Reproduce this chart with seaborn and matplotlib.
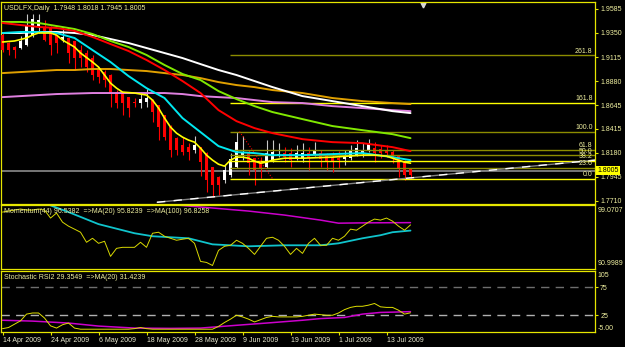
import numpy as np
import pandas as pd
import matplotlib
matplotlib.use("Agg")
import matplotlib.pyplot as plt
import matplotlib.transforms as mtrans
import seaborn as sns

# ---------------- data ----------------
tick_labels = ["14 Apr 2009", "24 Apr 2009", "6 May 2009", "18 May 2009", "28 May 2009",
               "9 Jun 2009", "19 Jun 2009", "1 Jul 2009", "13 Jul 2009"]
tick_bars = [0, 8, 16, 24, 32, 40, 48, 56, 64]

opens = [1.9330, 1.9252, 1.9213, 1.9203, 1.9232, 1.9330, 1.9409, 1.9409, 1.9409, 1.9330,
         1.9281, 1.9301, 1.9272, 1.9183, 1.9154, 1.9105, 1.9007, 1.8968, 1.8939, 1.8772,
         1.8763, 1.8723, 1.8679, 1.8665, 1.8674, 1.8694, 1.8645, 1.8547, 1.8430, 1.8322,
         1.8253, 1.8234, 1.8205, 1.8234, 1.8176, 1.8038, 1.7940, 1.7911, 1.7960, 1.8038,
         1.8156, 1.8176, 1.8126, 1.8087, 1.8038, 1.8107, 1.8146, 1.8176, 1.8176, 1.8126,
         1.8126, 1.8176, 1.8156, 1.8176, 1.8146, 1.8126, 1.8126, 1.8117, 1.8126, 1.8156,
         1.8176, 1.8195, 1.8224, 1.8214, 1.8195, 1.8185, 1.8146, 1.8087, 1.8018]
highs = [1.9350, 1.9262, 1.9220, 1.9321, 1.9536, 1.9536, 1.9536, 1.9477, 1.9415, 1.9335,
         1.9399, 1.9305, 1.9275, 1.9232, 1.9183, 1.9135, 1.9017, 1.8988, 1.8949, 1.8792,
         1.8772, 1.8728, 1.8714, 1.8772, 1.8802, 1.8704, 1.8650, 1.8552, 1.8449, 1.8332,
         1.8332, 1.8273, 1.8342, 1.8240, 1.8185, 1.8040, 1.7950, 1.8058, 1.8176, 1.8381,
         1.8340, 1.8205, 1.8130, 1.8136, 1.8303, 1.8303, 1.8273, 1.8234, 1.8224, 1.8253,
         1.8273, 1.8234, 1.8283, 1.8205, 1.8176, 1.8185, 1.8195, 1.8205, 1.8253, 1.8303,
         1.8273, 1.8312, 1.8283, 1.8253, 1.8253, 1.8205, 1.8156, 1.8107, 1.8028]
lows = [1.9164, 1.9135, 1.9105, 1.9195, 1.9225, 1.9311, 1.9350, 1.9272, 1.9135, 1.9154,
        1.9262, 1.9056, 1.8988, 1.9017, 1.8968, 1.8890, 1.8860, 1.8821, 1.8625, 1.8616,
        1.8547, 1.8528, 1.8625, 1.8616, 1.8625, 1.8479, 1.8303, 1.8303, 1.8136, 1.8156,
        1.8156, 1.8107, 1.8176, 1.7950, 1.7793, 1.7744, 1.7764, 1.7881, 1.7940, 1.8028,
        1.8107, 1.7960, 1.7862, 1.7930, 1.8028, 1.8087, 1.8136, 1.8087, 1.8038, 1.8107,
        1.8087, 1.8009, 1.8146, 1.8038, 1.8009, 1.7989, 1.8028, 1.8058, 1.8107, 1.8146,
        1.8136, 1.8185, 1.8087, 1.8126, 1.8136, 1.8077, 1.7940, 1.7911, 1.7921]
closes = [1.9183, 1.9183, 1.9183, 1.9272, 1.9428, 1.9487, 1.9477, 1.9281, 1.9232, 1.9252,
          1.9311, 1.9154, 1.9105, 1.9105, 1.9017, 1.8939, 1.8919, 1.8890, 1.8763, 1.8665,
          1.8665, 1.8616, 1.8669, 1.8704, 1.8714, 1.8577, 1.8430, 1.8332, 1.8205, 1.8205,
          1.8185, 1.8185, 1.8253, 1.8087, 1.7911, 1.7862, 1.7862, 1.8009, 1.8117, 1.8283,
          1.8176, 1.8077, 1.8009, 1.8028, 1.8176, 1.8185, 1.8166, 1.8136, 1.8107, 1.8176,
          1.8176, 1.8126, 1.8205, 1.8117, 1.8097, 1.8097, 1.8107, 1.8156, 1.8195, 1.8224,
          1.8195, 1.8263, 1.8176, 1.8176, 1.8176, 1.8126, 1.8028, 1.7960, 1.7960]

yellow_idx = [0, 2, 4, 5, 6, 8, 9, 10, 12, 13, 15, 16, 17, 18, 19, 20, 22, 24, 25, 26,
              27, 28, 29, 30, 31, 32, 33, 34, 35, 36, 37, 38, 39, 40, 41, 42, 43, 44, 45, 47,
              50, 55, 60, 62, 64, 65, 66, 67, 68]
ma_yellow = [1.9262, 1.9272, 1.9301, 1.9330, 1.9350, 1.9350, 1.9330, 1.9281, 1.9213, 1.9154,
             1.9066, 1.9017, 1.8939, 1.8860, 1.8811, 1.8772, 1.8763, 1.8743, 1.8694, 1.8616,
             1.8518, 1.8430, 1.8371, 1.8332, 1.8303, 1.8283, 1.8224, 1.8156, 1.8107, 1.8067,
             1.8048, 1.8107, 1.8136, 1.8136, 1.8126, 1.8097, 1.8077, 1.8087, 1.8107, 1.8126,
             1.8126, 1.8136, 1.8156, 1.8156, 1.8146, 1.8126, 1.8107, 1.8087, 1.8077]

ma_idx = [0, 3, 6, 9, 12, 15, 18, 21, 24, 27, 30, 33, 36, 39, 42, 45, 50, 55, 60, 65, 68]
ma_cyan = [1.9350, 1.9360, 1.9360, 1.9350, 1.9301, 1.9183, 1.9066, 1.8929, 1.8811, 1.8714,
           1.8518, 1.8381, 1.8244, 1.8185, 1.8176, 1.8156, 1.8156, 1.8166, 1.8176, 1.8136, 1.8107]
ma_red = [1.9448, 1.9428, 1.9409, 1.9399, 1.9370, 1.9311, 1.9242, 1.9174, 1.9086, 1.8988,
          1.8880, 1.8763, 1.8596, 1.8488, 1.8420, 1.8371, 1.8312, 1.8283, 1.8273, 1.8234, 1.8195]
ma_green = [1.9458, 1.9458, 1.9448, 1.9418, 1.9389, 1.9340, 1.9272, 1.9213, 1.9135, 1.9037,
            1.8949, 1.8890, 1.8782, 1.8704, 1.8635, 1.8577, 1.8508, 1.8440, 1.8400, 1.8361, 1.8322]
ma_white = [1.9350, 1.9350, 1.9360, 1.9360, 1.9350, 1.9330, 1.9291, 1.9252, 1.9203, 1.9154,
            1.9105, 1.9046, 1.8988, 1.8939, 1.8880, 1.8821, 1.8733, 1.8684, 1.8635, 1.8586, 1.8567]
ma_orange = [1.8958, 1.8968, 1.8978, 1.8988, 1.8988, 1.8998, 1.8998, 1.8988, 1.8978, 1.8958,
             1.8939, 1.8909, 1.8870, 1.8841, 1.8821, 1.8792, 1.8763, 1.8714, 1.8684, 1.8665, 1.8655]
ma_violet = [1.8723, 1.8733, 1.8743, 1.8753, 1.8758, 1.8763, 1.8763, 1.8763, 1.8763, 1.8763,
             1.8753, 1.8733, 1.8723, 1.8714, 1.8694, 1.8674, 1.8665, 1.8635, 1.8616, 1.8596, 1.8586]

price_ticks = [1.9585, 1.9350, 1.9115, 1.8880, 1.8645, 1.8415, 1.8180, 1.7945, 1.7710]
bid_price = 1.8005

fib_ratios = [0.0, 23.6, 38.2, 50.0, 61.8, 100.0, 161.8, 261.8]
fib_low, fib_high = 1.7926, 1.8386
fib_start_bar = 37.9
fib_anchor_bars = [39.5, 45.0]
trend_bars = [25.75, 98.75]
trend_prices = [1.7695, 1.8107]

momentum = [98.17, 98.30, 98.43, 98.56, 98.43, 98.43, 98.56, 98.43, 97.41, 98.05,
            96.89, 96.38, 96.00, 95.61, 94.33, 94.84, 94.20, 94.46, 92.54, 93.56,
            93.69, 93.69, 93.69, 94.33, 93.69, 95.48, 95.61, 95.10, 94.84, 94.59,
            94.72, 94.84, 94.20, 91.90, 91.77, 91.38, 93.30, 93.82, 93.95, 94.59,
            94.20, 93.56, 92.79, 93.82, 94.84, 94.97, 94.59, 93.82, 92.79, 93.56,
            92.92, 94.20, 94.84, 93.95, 93.95, 94.84, 94.59, 95.10, 96.00, 95.87,
            96.38, 96.89, 97.28, 97.15, 97.41, 97.02, 96.38, 95.87, 96.54]
mom_ma20_idx = [7, 11, 16, 22, 25, 28, 31, 35, 41, 47, 53, 56, 60, 63, 65, 68]
mom_ma20 = [99.30, 98.17, 96.64, 95.48, 95.10, 94.97, 94.84, 94.07, 93.82, 93.95,
            93.95, 94.20, 94.84, 95.23, 95.61, 95.82]
mom_ma100_idx = [27, 29, 35, 41, 47, 53, 56, 60, 68]
mom_ma100 = [99.30, 99.07, 98.69, 98.30, 97.79, 97.15, 96.76, 96.80, 96.83]

stoch_rsi = [1, 3, 9, 15, 27, 29, 29, 20, 6, 2,
             8, 11, 2, 0, 0, 0, 0, 0, 0, 0,
             0, 0, 1, 3, 1, 0, 0, 0, 0, 0,
             0, 0, 0, 0, 0, 0, 5, 12, 18, 25,
             22, 18, 13, 17, 21, 23, 22, 22, 22, 22,
             23, 25, 27, 26, 25, 25, 29, 35, 39, 41,
             41, 43, 46, 40, 39, 39, 34, 27, 29.35]
stoch_ma_idx = [0, 5, 11, 16, 22, 28, 33, 39, 44, 50, 53, 57, 60, 63, 65, 68]
stoch_ma = [16, 14.5, 11, 5.6, 2, 1.5, 2, 7, 11, 16, 19, 21, 27, 30, 30.5, 31.42]

# ---------------- style ----------------
sns.set_theme(style="dark", rc={"axes.facecolor": "black", "figure.facecolor": "black",
                                "savefig.facecolor": "black"})
plt.rcParams["font.family"] = ["Liberation Sans", "DejaVu Sans"]

BORDER = "#E6E600"
TXT = "#F0F0A0"
FS = 5.0

fig = plt.figure(figsize=(6.25, 3.47), dpi=100)
L, W = 1.5 / 625, 593.5 / 625
ax = fig.add_axes([L, 1 - 203.5 / 347, W, 201.5 / 347])
axm = fig.add_axes([L, 1 - 268.5 / 347, W, 63.5 / 347])
axs = fig.add_axes([L, 1 - 332.0 / 347, W, 61.5 / 347])
XMIN, XMAX = -0.17, 98.75

for a in (ax, axm, axs):
    a.set_facecolor("black")
    a.grid(False)
    for s in a.spines.values():
        s.set_color(BORDER)
        s.set_linewidth(0.9)
    a.set_xlim(XMIN, XMAX)

# ---------------- main price panel ----------------
o = np.array(opens); h = np.array(highs); l = np.array(lows); c = np.array(closes)
idx = np.arange(len(o))
bull = c > o
wick_col = np.where(bull, "#C8C8C8", "#FF0000")
body_col = np.where(bull, "#FFFFFF", "#FF0000")
ax.vlines(idx, l, h, colors=wick_col, linewidth=0.8, zorder=2)
bottom = np.minimum(o, c)
height = np.maximum(np.abs(c - o), 0.0008)
ax.bar(idx, height, bottom=bottom, width=0.58, color=body_col, linewidth=0, zorder=3)

# fibonacci levels
fib_cols = ["#FFFF00", "#8C8C00", "#FFFF00", "#8C8C00", "#8C8C00", "#8C8C00", "#FFFF00", "#8C8C00"]
blend = mtrans.blended_transform_factory(ax.transAxes, ax.transData)
for r, col in zip(fib_ratios, fib_cols):
    lvl = fib_low + r / 100.0 * (fib_high - fib_low)
    ax.hlines(lvl, fib_start_bar, XMAX, colors=col, linewidth=1.0, zorder=4)
    ax.text(0.996, lvl + 0.0004, f"{r:.1f}", transform=blend, ha="right", va="bottom",
            fontsize=FS, color=TXT, zorder=6)
sns.lineplot(x=fib_anchor_bars, y=[fib_high, fib_low], ax=ax, color="#FF0000",
             linewidth=0.8, linestyle=":", zorder=4)

# bid line
ax.axhline(bid_price, color="#808080", linewidth=1.3, zorder=1.5)

# trend line (white / gray dashes)
sns.lineplot(x=trend_bars, y=trend_prices, ax=ax, color="#808080", linewidth=1.0, zorder=4)
ax.plot(trend_bars, trend_prices, color="#FFFFFF", linewidth=1.0, dashes=(6, 6), zorder=4.1)

# moving averages
for xs, ys, col, lw in [
    (ma_idx, ma_violet, "#E080E0", 1.4),
    (ma_idx, ma_orange, "#E0A000", 1.4),
    (ma_idx, ma_white, "#FFFFFF", 1.4),
    (ma_idx, ma_green, "#80E800", 1.4),
    (ma_idx, ma_red, "#FF0000", 1.4),
    (ma_idx, ma_cyan, "#00E8F0", 1.4),
    (yellow_idx, ma_yellow, "#FFFF00", 1.2),
]:
    sns.lineplot(x=xs, y=ys, ax=ax, color=col, linewidth=lw, zorder=5)

ax.set_ylim(1.7683, 1.9653)
ax.set_xlim(XMIN, XMAX)
ax.yaxis.tick_right()
ax.set_yticks(price_ticks)
ax.set_yticklabels([f"{t:.4f}" for t in price_ticks])
ax.set_xticks([])
ax.tick_params(axis="y", which="both", right=True, left=False, length=2.5, width=0.8,
               color=BORDER, labelcolor=TXT, labelsize=FS, pad=1.2, direction="out")
ax.text(0.004, 0.97, "USDLFX,Daily  1.7948 1.8018 1.7945 1.8005", transform=ax.transAxes,
        ha="left", va="center", fontsize=FS, color=TXT, zorder=7)
ax.text(1.004, bid_price, f"{bid_price:.4f}", transform=blend, ha="left", va="center",
        fontsize=FS, color="black", clip_on=False, zorder=8,
        bbox=dict(boxstyle="square,pad=0.2", fc="#FFFF00", ec="none"))
ax.plot([len(o) + 1], [0.985], marker="v", ms=3.5, color="#D8D8D8",
        transform=mtrans.blended_transform_factory(ax.transData, ax.transAxes), clip_on=False)
ax.set_xlabel(""); ax.set_ylabel("")

# ---------------- momentum panel ----------------
sns.lineplot(x=mom_ma100_idx, y=mom_ma100, ax=axm, color="#CC00CC", linewidth=1.1)
sns.lineplot(x=mom_ma20_idx, y=mom_ma20, ax=axm, color="#10C4CC", linewidth=1.3)
sns.lineplot(x=list(idx), y=momentum, ax=axm, color="#D8D800", linewidth=0.7)
axm.set_ylim(90.9989, 99.0707)
axm.set_xlim(XMIN, XMAX)
axm.set_xticks([]); axm.set_yticks([])
axm.text(0.004, 0.905, "Momentum(44) 96.5382  =>MA(20) 95.8239  =>MA(100) 96.8258",
         transform=axm.transAxes, ha="left", va="center", fontsize=FS, color=TXT)
axm.text(1.005, 0.92, "99.0707", transform=axm.transAxes, ha="left", va="center",
         fontsize=FS, color=TXT, clip_on=False)
axm.text(1.005, 0.08, "90.9989", transform=axm.transAxes, ha="left", va="center",
         fontsize=FS, color=TXT, clip_on=False)
axm.set_xlabel(""); axm.set_ylabel("")

# ---------------- stochastic RSI panel ----------------
axs.axhline(75, color="#6E6E6E", linewidth=1.0, dashes=(6, 4.5))
axs.axhline(25, color="#B0B0B0", linewidth=1.0, dashes=(6, 4.5))
sns.lineplot(x=stoch_ma_idx, y=stoch_ma, ax=axs, color="#CC00CC", linewidth=1.1)
sns.lineplot(x=list(idx), y=stoch_rsi, ax=axs, color="#E0E000", linewidth=0.7)
axs.set_ylim(-5, 105)
axs.set_xlim(XMIN, XMAX)
axs.yaxis.tick_right()
axs.set_yticks([75, 25])
axs.set_yticklabels(["75", "25"])
axs.tick_params(axis="y", right=True, left=False, length=2.5, width=0.8, color=BORDER,
                labelcolor=TXT, labelsize=FS, pad=1.2)
axs.set_xticks(tick_bars)
axs.set_xticklabels(tick_labels)
axs.tick_params(axis="x", bottom=True, length=2.5, width=0.8, color=BORDER,
                labelcolor="#E8E8D0", labelsize=FS, pad=1.0)
for lab in axs.get_xticklabels():
    lab.set_horizontalalignment("left")
axs.text(0.004, 0.885, "Stochastic RSI2 29.3549  =>MA(20) 31.4239",
         transform=axs.transAxes, ha="left", va="center", fontsize=FS, color=TXT)
axs.text(1.005, 0.925, "105", transform=axs.transAxes, ha="left", va="center",
         fontsize=FS, color=TXT, clip_on=False)
axs.text(1.005, 0.06, "-5.00", transform=axs.transAxes, ha="left", va="center",
         fontsize=FS, color=TXT, clip_on=False)
axs.set_xlabel(""); axs.set_ylabel("")

fig.savefig("out.png", dpi=100, facecolor="black")
